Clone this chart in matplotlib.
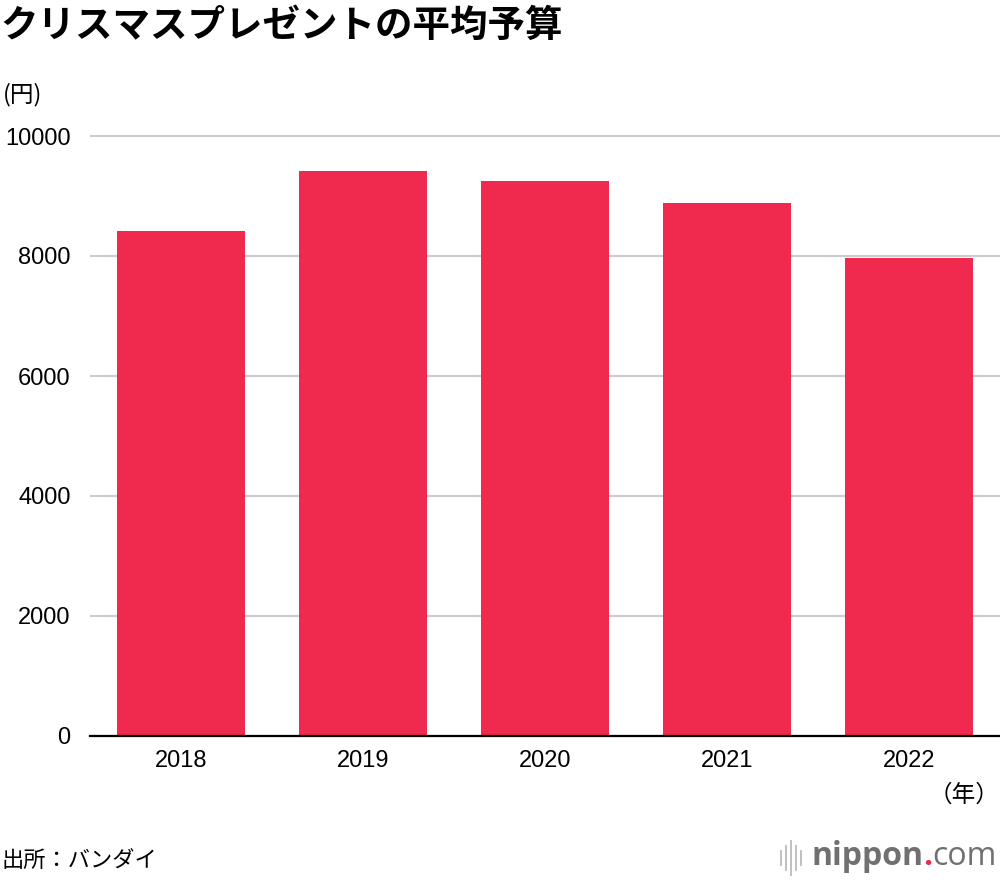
import matplotlib
matplotlib.use("Agg")
import matplotlib.pyplot as plt
from matplotlib.lines import Line2D

plt.rcParams['font.family'] = ['Noto Sans CJK JP', 'DejaVu Sans']

years = ["2018", "2019", "2020", "2021", "2022"]
budget = [8417, 9418, 9245, 8882, 7964]
yticks = [0, 2000, 4000, 6000, 8000, 10000]

W, H = 1000, 880
fig = plt.figure(figsize=(W / 100, H / 100), dpi=100)
ax = fig.add_axes([90 / W, 1 - 736 / H, 910 / W, 606 / H])

ax.bar(range(len(years)), budget, width=0.70, color="#F0294E", zorder=2)
ax.set_xlim(-0.5, len(years) - 0.5)
ax.set_ylim(0, 10100)
ax.set_yticks(yticks)
ax.set_yticklabels([str(v) for v in yticks], family="Liberation Sans", fontsize=17)
ax.set_xticks(range(len(years)))
ax.set_xticklabels(years, family="Liberation Sans", fontsize=17)
ax.tick_params(axis='both', length=0)
ax.tick_params(axis='y', pad=14)
ax.tick_params(axis='x', pad=10)
ax.yaxis.grid(True, color="#cccccc", linewidth=1.6, zorder=0)
ax.set_axisbelow(True)
for s in ["top", "right", "left"]:
    ax.spines[s].set_visible(False)
ax.spines["bottom"].set_color("black")
ax.spines["bottom"].set_linewidth(1.6)
ax.spines["bottom"].set_zorder(3)

fig.text(0 / W, 1 - 25 / H, "クリスマスプレゼントの平均予算", fontsize=27, fontweight="bold",
         va="center", ha="left")
fig.text(3 / W, 1 - 95 / H, "(円)", fontsize=17, va="center", ha="left")
fig.text(999 / W, 1 - 795 / H, "（年）", fontsize=17, va="center", ha="right")
fig.text(2 / W, 1 - 860 / H, "出所：バンダイ", fontsize=16, va="center", ha="left")

# nippon.com logo, laid out right to left so it ends at the right edge
ly = 1 - 856 / H
fs = 23
t3 = fig.text(997 / W, ly, "com", fontsize=fs, color="#707070",
              va="center", ha="right", family="Open Sans")
fig.canvas.draw()
x3 = t3.get_window_extent().x0
t2 = fig.text(x3 / W, ly, ".", fontsize=fs, fontweight="bold", color="#F0294E",
              va="center", ha="right", family="Open Sans")
fig.canvas.draw()
x2 = t2.get_window_extent().x0
t1 = fig.text(x2 / W, ly, "nippon", fontsize=fs, fontweight="bold", color="#707070",
              va="center", ha="right", family="Open Sans")
fig.canvas.draw()
x1 = t1.get_window_extent().x0
for dx, h in [(-30, 7), (-25, 12), (-20, 17), (-15, 12), (-10, 7)]:
    x = x1 + dx
    fig.add_artist(Line2D([x / W, x / W], [1 - (858 + h) / H, 1 - (858 - h) / H],
                          color="#bbbbbb", linewidth=1.3))

fig.savefig("out.png", dpi=100)
